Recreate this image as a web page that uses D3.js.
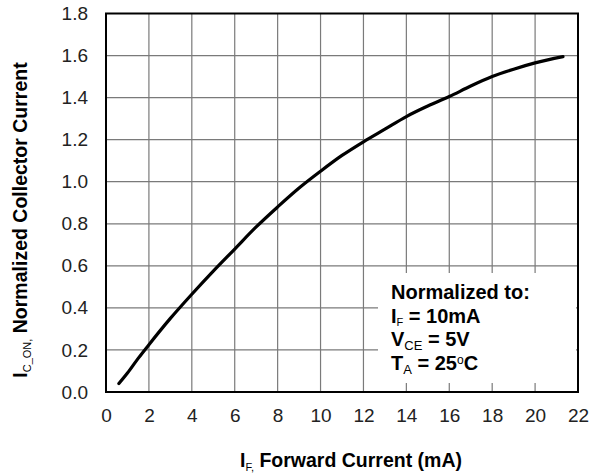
<!DOCTYPE html>
<html><head><meta charset="utf-8">
<script src="https://cdn.jsdelivr.net/npm/d3@7"></script>
<style>body{margin:0;background:#fff}svg{display:block}</style>
</head><body>
<script>
const forwardCurrent = [0.6, 1, 1.5, 2, 3, 4, 5, 6, 7, 8, 9, 10, 11, 12, 13, 14, 15, 16, 17, 18, 19, 20, 21.3];
const normCurrent = [0.04, 0.09, 0.16, 0.225, 0.35, 0.465, 0.575, 0.68, 0.785, 0.88, 0.97, 1.05, 1.125, 1.19, 1.25, 1.31, 1.36, 1.405, 1.455, 1.50, 1.535, 1.565, 1.595];
const xTicks = [0, 2, 4, 6, 8, 10, 12, 14, 16, 18, 20, 22];
const yTicks = [0.0, 0.2, 0.4, 0.6, 0.8, 1.0, 1.2, 1.4, 1.6, 1.8];

const W = 605, H = 475;
const FONT = "'Liberation Sans', Arial, sans-serif";
const m = {left: 106, top: 13.5, right: 578, bottom: 392};
const svg = d3.select("body").append("svg").attr("width", W).attr("height", H)
  .style("font-family", FONT);

const x = d3.scaleLinear().domain([0, 22]).range([m.left, m.right]);
const y = d3.scaleLinear().domain([0, 1.8]).range([m.bottom, m.top]);

// grid
svg.append("g").selectAll("line").data(xTicks.slice(1, -1)).join("line")
  .attr("x1", d => x(d)).attr("x2", d => x(d)).attr("y1", m.top).attr("y2", m.bottom)
  .attr("stroke", "#7a7a7a").attr("stroke-width", 1.2);
svg.append("g").selectAll("line").data(yTicks.slice(1, -1)).join("line")
  .attr("x1", m.left).attr("x2", m.right).attr("y1", d => y(d)).attr("y2", d => y(d))
  .attr("stroke", "#7a7a7a").attr("stroke-width", 1.2);

// legend backdrop
svg.append("rect").attr("x", 378).attr("y", 273).attr("width", m.right - 378 - 2).attr("height", 110)
  .attr("fill", "#fff");

// axes (tick labels only)
const xAxis = d3.axisBottom(x).tickValues(xTicks).tickSize(0).tickPadding(17).tickFormat(d3.format("d"));
const gx = svg.append("g").attr("transform", `translate(0,${m.bottom})`).call(xAxis);
gx.select(".domain").remove();
gx.selectAll("text").attr("font-size", 19).attr("fill", "#222").attr("font-family", FONT);

const yAxis = d3.axisLeft(y).tickValues(yTicks).tickSize(0).tickPadding(18).tickFormat(d3.format(".1f"));
const gy = svg.append("g").attr("transform", `translate(${m.left},0)`).call(yAxis);
gy.select(".domain").remove();
gy.selectAll("text").attr("font-size", 19).attr("fill", "#222").attr("font-family", FONT);

// frame
svg.append("rect").attr("x", m.left).attr("y", m.top).attr("width", m.right - m.left).attr("height", m.bottom - m.top)
  .attr("fill", "none").attr("stroke", "#000").attr("stroke-width", 2);

// curve
const pts = forwardCurrent.map((v, i) => [v, normCurrent[i]]);
svg.append("path").datum(pts)
  .attr("d", d3.line().x(d => x(d[0])).y(d => y(d[1])).curve(d3.curveMonotoneX))
  .attr("fill", "none").attr("stroke", "#000").attr("stroke-width", 3.2).attr("stroke-linecap", "round");

// legend
const lg = svg.append("g").attr("font-weight", "bold").attr("font-size", 20).attr("fill", "#000");
const lx = 391;
lg.append("text").attr("x", lx).attr("y", 299).text("Normalized to:");
let t = lg.append("text").attr("x", lx).attr("y", 323);
t.append("tspan").text("I");
t.append("tspan").attr("font-size", 11).attr("font-weight", "normal").attr("dy", 2.5).text("F");
t.append("tspan").attr("dy", -2.5).text(" = 10mA");
t = lg.append("text").attr("x", lx).attr("y", 346);
t.append("tspan").text("V");
t.append("tspan").attr("font-size", 13).attr("font-weight", "normal").attr("dy", 3.5).text("CE");
t.append("tspan").attr("dy", -3.5).text(" = 5V");
t = lg.append("text").attr("x", lx).attr("y", 370);
t.append("tspan").text("T");
t.append("tspan").attr("font-size", 13).attr("font-weight", "normal").attr("dy", 3.5).text("A");
t.append("tspan").attr("dy", -3.5).text(" = 25");
t.append("tspan").attr("font-size", 12).attr("font-weight", "normal").attr("dy", -6).text("o");
t.append("tspan").attr("dy", 6).text("C");

// x axis title
t = svg.append("text").attr("x", 351).attr("y", 467).attr("text-anchor", "middle")
  .attr("font-weight", "bold").attr("font-size", 19.5);
t.append("tspan").text("I");
t.append("tspan").attr("font-size", 11).attr("font-weight", "normal").attr("dy", 4).text("F,");
t.append("tspan").attr("dy", -4).text(" Forward Current (mA)");

// y axis title
t = svg.append("text").attr("transform", "translate(27,220) rotate(-90)").attr("text-anchor", "middle")
  .attr("font-weight", "bold").attr("font-size", 19.5);
t.append("tspan").text("I");
t.append("tspan").attr("font-size", 11).attr("font-weight", "normal").attr("dy", 4).text("C_ON,");
t.append("tspan").attr("dy", -4).text(" Normalized Collector Current");
</script>
</body></html>
